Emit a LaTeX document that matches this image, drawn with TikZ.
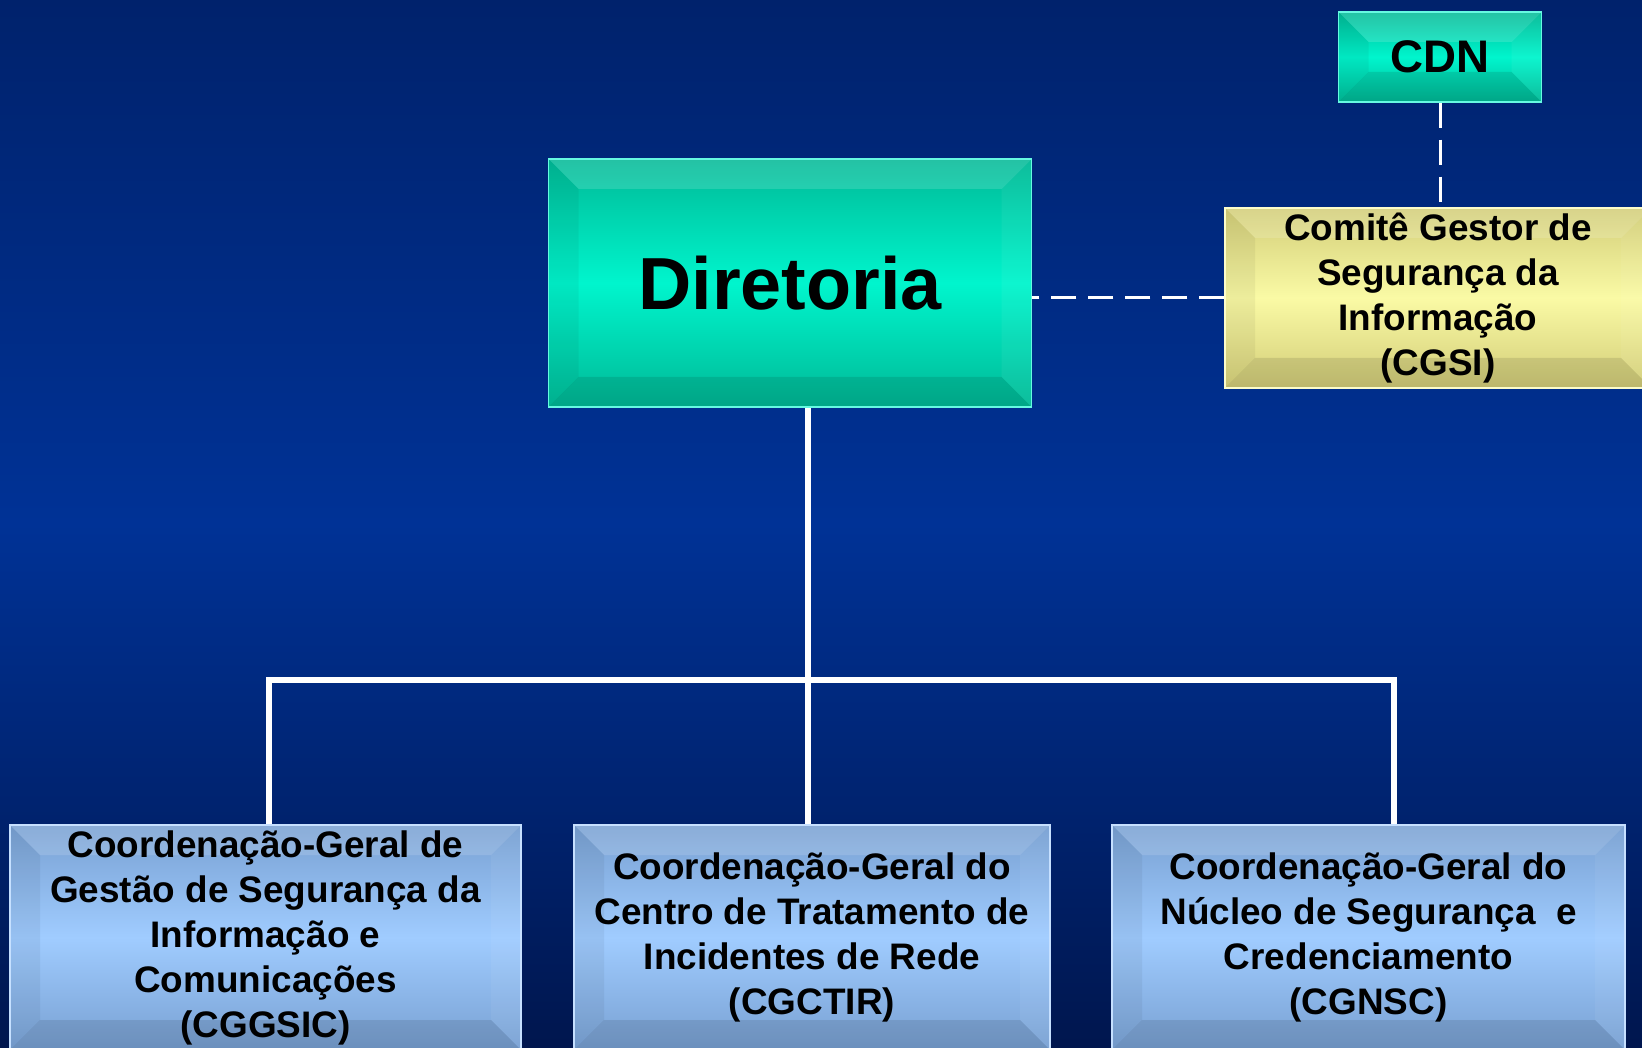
\documentclass[tikz,border=0pt]{standalone}
\usepackage{fontspec}
\setmainfont{Liberation Sans}
\usetikzlibrary{calc}
\definecolor{bgtop}{RGB}{0,34,108}
\definecolor{bgmid}{RGB}{0,50,150}
\definecolor{bgbot}{RGB}{0,22,78}
\definecolor{tealedge}{RGB}{0,185,150}
\definecolor{tealmid}{RGB}{0,245,205}
\definecolor{yeledge}{RGB}{210,205,120}
\definecolor{yelmid}{RGB}{250,250,165}
\definecolor{blueedge}{RGB}{120,160,210}
\definecolor{bluemid}{RGB}{160,204,255}
\newcommand*\bev{3mm}
\tikzset{
  bevel/.style={path picture={
    \path (path picture bounding box.north west) coordinate (bnw)
          (path picture bounding box.north east) coordinate (bne)
          (path picture bounding box.south east) coordinate (bse)
          (path picture bounding box.south west) coordinate (bsw);
    \fill[white,opacity=.14] (bnw) -- (bne) -- ([xshift=-\bev,yshift=-\bev]bne) -- ([xshift=\bev,yshift=-\bev]bnw) -- cycle;
    \fill[black,opacity=.10] (bsw) -- (bse) -- ([xshift=-\bev,yshift=\bev]bse) -- ([xshift=\bev,yshift=\bev]bsw) -- cycle;
    \fill[black,opacity=.05] (bnw) -- (bsw) -- ([xshift=\bev,yshift=\bev]bsw) -- ([xshift=\bev,yshift=-\bev]bnw) -- cycle;
    \fill[white,opacity=.05] (bne) -- (bse) -- ([xshift=-\bev,yshift=\bev]bse) -- ([xshift=-\bev,yshift=-\bev]bne) -- cycle;
  }},
  unit/.style 2 args={top color=#1,bottom color=#1,middle color=#2,draw=#2!60!white,
    line width=.4pt,bevel,inner sep=0pt,align=center},
  small/.style={font=\bfseries\fontsize{10.5}{12.8}\selectfont},
  tree/.style={white,line width=.6mm},
  link/.style={white,line width=.3mm,dash pattern=on 2.5mm off 1.2mm}
}
\begin{document}
\begin{tikzpicture}[x=0.1mm,y=-0.1mm]
\useasboundingbox (0,0) rectangle (1642,1048);
\clip (0,0) rectangle (1642,1048);
\shade [top color=bgtop,bottom color=bgbot,middle color=bgmid] (0,0) rectangle (1642,1048);
%top
\node [unit={tealedge}{tealmid},minimum width=48.3mm,minimum height=24.8mm,
  font=\bfseries\fontsize{21}{25}\selectfont] (dir) at (790,283) {Diretoria};
\node [unit={tealedge}{tealmid},minimum width=20.3mm,minimum height=9mm,
  font=\bfseries\fontsize{13}{16}\selectfont] (cdn) at (1440,57) {CDN};
\node [unit={yeledge}{yelmid},small,minimum width=42.6mm,minimum height=18mm] (cgsi) at (1438,298)
  {Comitê Gestor de\\Segurança da\\Informação\\(CGSI)};
%coordenacoes
\node [unit={blueedge}{bluemid},small,minimum width=51.1mm,minimum height=22.5mm] (cggsic) at (265.5,937.5)
  {Coordenação-Geral de\\Gestão de Segurança da\\Informação e\\Comunicações\\(CGGSIC)};
\node [unit={blueedge}{bluemid},small,minimum width=47.6mm,minimum height=22.5mm] (cgctir) at (812,937.5)
  {Coordenação-Geral do\\Centro de Tratamento de\\Incidentes de Rede\\(CGCTIR)};
\node [unit={blueedge}{bluemid},small,minimum width=51.3mm,minimum height=22.5mm] (cgnsc) at (1368.5,937.5)
  {Coordenação-Geral do\\Núcleo de Segurança~ e\\Credenciamento\\(CGNSC)};
%links
\draw [link] (cdn.south) -- (cdn.south |- cgsi.north);
\draw [link] (cgsi.west) -- (cgsi.west -| dir.east);
%tree
\coordinate (trunk) at (808,680);
\draw [tree] (dir.south -| trunk) -- (trunk) -- (cgctir.north -| trunk);
\draw [tree] ([xshift=.35mm]cggsic.north) |- (trunk) -| ([xshift=2.55mm]cgnsc.north);
\end{tikzpicture}
\end{document}
